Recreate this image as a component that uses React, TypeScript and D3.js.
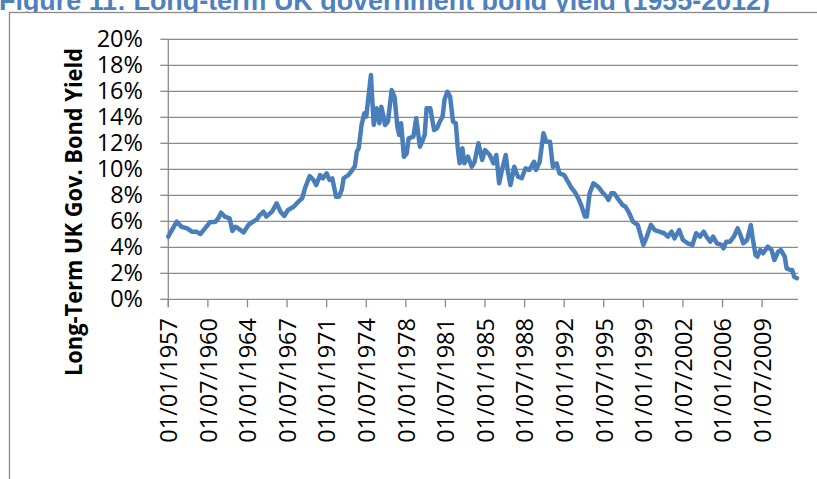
import React from "react";
import * as d3 from "d3";

const chartTitle = "Figure 11: Long-term UK government bond yield (1955-2012)";
const yAxisTitle = "Long-Term UK Gov. Bond Yield";

const dates = [
  "1957-01","1957-03","1957-10","1958-03","1958-09","1959-02","1959-07","1959-11","1960-04","1960-09",
  "1961-03","1961-06","1961-09","1962-01","1962-06","1962-09","1962-12","1963-03","1963-09","1964-02",
  "1964-07","1964-11","1965-02","1965-06","1965-09","1966-03","1966-08","1966-12","1967-04","1967-08",
  "1968-02","1968-07","1968-11","1969-02","1969-07","1969-11","1970-02","1970-06","1970-09","1971-01",
  "1971-04","1971-07","1971-11","1972-02","1972-05","1972-07","1972-12","1973-03","1973-07","1973-09",
  "1973-11","1974-02","1974-05","1974-07","1974-09","1974-12","1975-01","1975-03","1975-06","1975-09",
  "1975-11","1976-01","1976-03","1976-06","1976-10","1977-01","1977-04","1977-06","1977-08","1977-11",
  "1978-02","1978-04","1978-09","1978-12","1979-04","1979-07","1979-09","1979-11","1980-03","1980-07",
  "1980-10","1981-01","1981-04","1981-06","1981-09","1981-12","1982-03","1982-06","1982-08","1982-10",
  "1983-01","1983-03","1983-07","1983-11","1984-02","1984-06","1984-10","1985-01","1985-06","1985-10",
  "1986-01","1986-04","1986-07","1986-11","1987-01","1987-04","1987-08","1987-12","1988-04","1988-08",
  "1988-12","1989-05","1989-07","1989-11","1990-03","1990-06","1990-10","1991-01","1991-05","1991-08",
  "1992-01","1992-05","1992-09","1992-12","1993-04","1993-07","1993-11","1994-01","1994-04","1994-08",
  "1995-01","1995-05","1995-10","1995-12","1996-03","1996-06","1996-11","1997-03","1997-06","1997-10",
  "1998-02","1998-07","1999-01","1999-04","1999-09","2000-01","2000-06","2000-11","2001-03","2001-07",
  "2001-10","2002-03","2002-07","2002-12","2003-05","2003-09","2004-01","2004-05","2004-08","2004-12",
  "2005-03","2005-07","2005-12","2006-02","2006-05","2006-09","2007-01","2007-05","2007-08","2007-11",
  "2008-03","2008-07","2008-09","2008-12","2009-02","2009-05","2009-08","2010-01","2010-05","2010-08",
  "2010-12","2011-03","2011-07","2011-09","2012-01","2012-03","2012-05","2012-08",
];

const yields = [
  4.82,5.10,5.97,5.58,5.46,5.20,5.20,5.02,5.46,5.92,
  5.97,6.23,6.66,6.36,6.23,5.25,5.58,5.46,5.15,5.72,
  5.97,6.15,6.48,6.74,6.36,6.74,7.38,6.74,6.41,6.87,
  7.12,7.51,7.77,8.54,9.48,9.18,8.79,9.56,9.31,9.69,
  9.18,9.30,7.89,7.89,8.41,9.31,9.56,9.82,10.25,11.36,
  11.62,13.41,14.30,14.05,15.33,17.25,15.85,13.41,14.69,13.54,
  14.82,14.18,13.41,13.67,16.10,15.58,13.28,12.64,13.54,10.97,
  11.23,12.38,12.51,13.92,11.74,12.25,12.64,14.69,14.69,13.02,
  13.15,13.67,14.05,15.33,15.97,15.58,13.67,13.54,11.74,10.46,
  11.62,10.46,10.97,10.20,10.58,12.00,10.72,11.48,11.10,10.46,
  11.10,8.92,9.95,11.10,9.95,8.79,10.20,9.43,9.31,10.08,
  9.95,10.58,9.95,10.58,12.77,12.12,12.12,10.20,10.46,9.69,
  9.56,9.05,8.54,8.28,7.77,7.25,6.36,6.36,8.15,8.92,
  8.66,8.28,7.89,7.64,8.15,8.15,7.64,7.25,7.12,6.62,
  5.97,5.72,4.18,4.69,5.72,5.33,5.20,5.08,4.82,5.20,
  4.69,5.33,4.56,4.31,4.18,5.08,4.82,5.20,4.82,4.43,
  4.82,4.31,4.18,3.92,4.43,4.43,4.82,5.46,4.95,4.31,
  4.56,5.72,4.69,3.41,3.28,3.79,3.54,4.05,3.79,3.02,
  3.66,3.79,3.28,2.38,2.25,2.25,1.74,1.62,
];

const xTickLabels = [
  "01/01/1957","01/07/1960","01/01/1964","01/07/1967","01/01/1971","01/07/1974",
  "01/01/1978","01/07/1981","01/01/1985","01/07/1988","01/01/1992","01/07/1995",
  "01/01/1999","01/07/2002","01/01/2006","01/07/2009",
];

const yTickValues = [0, 2, 4, 6, 8, 10, 12, 14, 16, 18, 20];

const firstMonth = "1957-01";
const lastMonth = "2012-08";

function monthIndex(s: string): number {
  const [yy, mm] = s.split("-").map(Number);
  const [y0, m0] = firstMonth.split("-").map(Number);
  return (yy - y0) * 12 + (mm - m0);
}
function labelIndex(l: string): number {
  const [, mm, yy] = l.split("/").map(Number);
  return monthIndex(`${yy}-${String(mm).padStart(2, "0")}`);
}

const FONT = "'Open Sans', 'Liberation Sans', sans-serif";
const GRID = "#8a8a8a";

export default function App() {
  const plotLeft = 168.3;
  const plotRight = 798;
  const plotTop = 39.3;
  const plotBottom = 299.3;

  const x = d3.scaleLinear().domain([0, monthIndex(lastMonth)]).range([plotLeft, 797]);
  const y = d3.scaleLinear().domain([0, 20]).range([plotBottom, plotTop]);

  const pts: [number, number][] = dates.map((d, i) => [monthIndex(d), yields[i]]);
  const line = d3
    .line<[number, number]>()
    .x((d) => x(d[0]))
    .y((d) => y(d[1]));

  return (
    <svg
      width={817}
      height={479}
      style={{ position: "absolute", left: 0, top: 0, background: "#fff" }}
    >
      <text
        x={-1}
        y={9.5}
        fill="#4F81BD"
        fontFamily="'Liberation Sans', Arial, sans-serif"
        fontWeight="bold"
        fontSize={27}
        textLength={771}
        lengthAdjust="spacingAndGlyphs"
      >
        {chartTitle}
      </text>
      <rect x={9.5} y={12.5} width={900} height={600} fill="#fff" stroke={GRID} strokeWidth={1.3} />

      {yTickValues.map((v) => (
        <g key={v}>
          <line x1={plotLeft} x2={plotRight} y1={y(v)} y2={y(v)} stroke={GRID} strokeWidth={1.3} />
          <line x1={plotLeft - 8} x2={plotLeft} y1={y(v)} y2={y(v)} stroke={GRID} strokeWidth={1.3} />
          <text
            x={143}
            y={y(v) + 8}
            textAnchor="end"
            fontFamily={FONT}
            fontSize={23.5}
            fill="#000"
          >
            {`${v}%`}
          </text>
        </g>
      ))}

      <line x1={plotLeft} x2={plotLeft} y1={plotTop} y2={plotBottom + 8} stroke={GRID} strokeWidth={1.3} />

      {xTickLabels.map((l) => {
        const tx = x(labelIndex(l));
        return (
          <g key={l}>
            <line x1={tx} x2={tx} y1={plotBottom} y2={plotBottom + 8} stroke={GRID} strokeWidth={1.3} />
            <text
              transform={`translate(${tx + 8.8},318) rotate(-90)`}
              textAnchor="end"
              fontFamily={FONT}
              fontSize={23.5}
              fill="#000"
            >
              {l}
            </text>
          </g>
        );
      })}

      <path
        d={line(pts) || ""}
        fill="none"
        stroke="#4A7EBB"
        strokeWidth={4.5}
        strokeLinejoin="round"
        strokeLinecap="round"
      />

      <text
        transform={`translate(82,212) rotate(-90)`}
        textAnchor="middle"
        fontFamily={FONT}
        fontWeight="bold"
        fontSize={23}
        textLength={328}
        lengthAdjust="spacingAndGlyphs"
        fill="#000"
      >
        {yAxisTitle}
      </text>
    </svg>
  );
}
